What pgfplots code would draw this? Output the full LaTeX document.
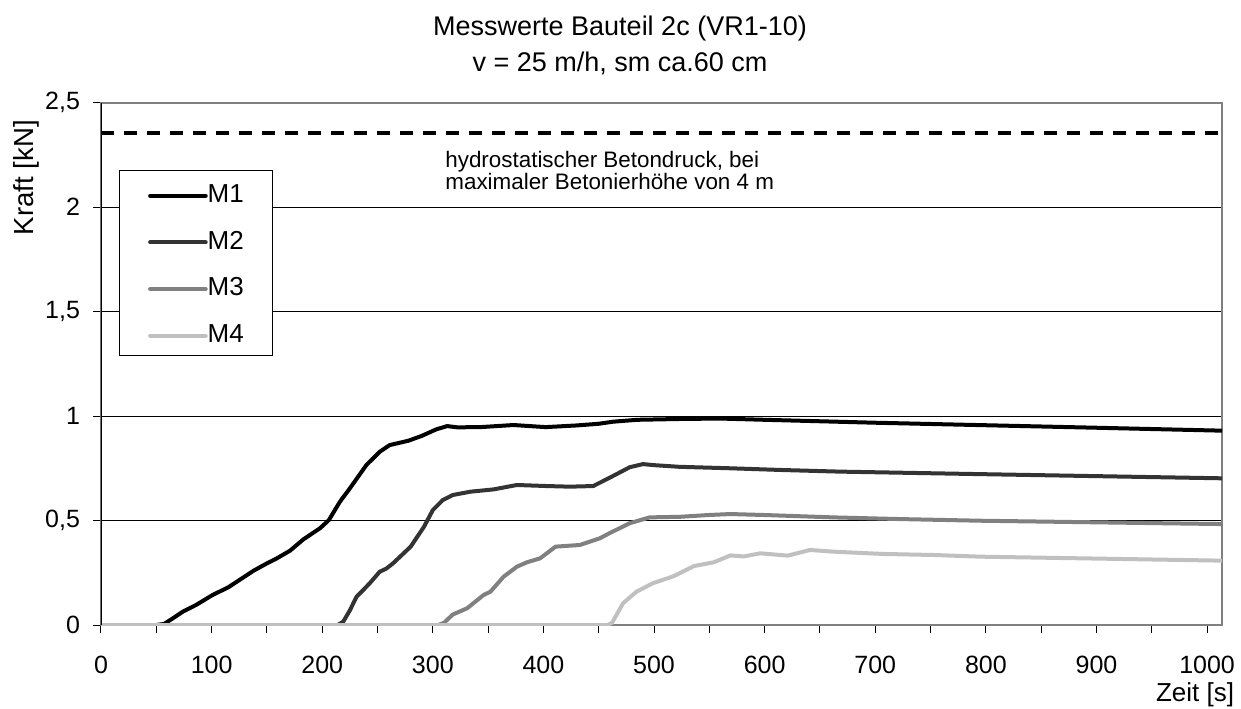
\documentclass[border=0pt]{standalone}
\usepackage{pgfplots}
\pgfplotsset{compat=1.18}
\usepackage{fontspec}
\setmainfont{Liberation Sans}
\definecolor{mtwo}{HTML}{333333}
\definecolor{mthree}{HTML}{808080}
\definecolor{mfour}{HTML}{C0C0C0}
\begin{document}
\begin{tikzpicture}
\useasboundingbox (-50.5bp,-42bp) rectangle (570bp,312.5bp);
\begin{axis}[
  scale only axis,
  width=560.5bp, height=261.2bp,
  xmin=0, xmax=1013.5, ymin=0, ymax=2.5,
  axis line style={draw=mthree, line width=0.9bp},
  xtick={0,100,...,1000},
  minor xtick={50,150,...,950},
  xticklabels={0,100,200,300,400,500,600,700,800,900,1000},
  ytick={0,0.5,1,1.5,2,2.5},
  yticklabels={0,{0,5},1,{1,5},2,{2,5}},
  tick align=outside,
  xtick pos=bottom, ytick pos=left,
  major tick length=4bp, minor tick length=4bp,
  tick style={black, line width=0.5bp},
  ymajorgrids,
  major grid style={black, line width=0.5bp},
  /pgf/number format/assume math mode=true,
  ticklabel style={font=\fontsize{12.5bp}{15bp}\selectfont},
  xticklabel style={yshift=-8bp},
  yticklabel style={xshift=-3bp},
  xlabel={Zeit [s]},
  xlabel style={at={(axis description cs:0.976,-0.134)}, anchor=center, font=\fontsize{13bp}{15bp}\selectfont},
  ylabel={Kraft [kN]},
  ylabel style={at={(axis description cs:-0.0663,0.856)}, anchor=center, font=\fontsize{13.8bp}{15bp}\selectfont},
  title={Messwerte Bauteil 2c (VR1-10)\\v = 25 m/h, sm ca.60 cm},
  title style={at={(axis description cs:0.463,1.0866)}, anchor=center, align=center, font=\fontsize{13.5bp}{18.3bp}\selectfont},
  legend style={at={(axis description cs:0.016,0.871)}, anchor=north west,
    draw=black, line width=0.6bp, fill=white,
    font=\fontsize{13bp}{15bp}\selectfont,
    inner xsep=14.3bp, inner ysep=6.4bp, row sep=13.85bp,
    nodes={inner sep=0pt, text height=9.5bp, text depth=0bp},
    /tikz/every even column/.append style={column sep=3bp}},
  legend cell align=left,
  legend image code/.code={\draw[#1] (0bp,-1.4bp) -- (27.8bp,-1.4bp);},
  every axis plot/.append style={line width=2bp, line join=round, line cap=round},
  clip=true,
]
\addplot[black] coordinates {
(0,0) (50,0) (57,0.005) (65,0.032) (74,0.064) (86,0.096) (101,0.144) (115,0.18)
(138,0.26) (150,0.295) (159,0.319) (171,0.356) (183,0.41) (198,0.463) (206,0.502)
(216,0.59) (225,0.654) (240,0.766) (252,0.829) (261,0.861) (278,0.882) (290,0.905)
(303,0.936) (313,0.952) (322,0.946) (343,0.947) (373,0.957) (402,0.947) (430,0.955)
(450,0.963) (463,0.973) (485,0.982) (524,0.986) (560,0.988) (600,0.982) (700,0.968)
(800,0.956) (900,0.944) (1013.5,0.930)
};
\addlegendentry{M1}
\addplot[mtwo] coordinates {
(0,0) (214,0) (219,0.016) (225,0.07) (231,0.135) (237,0.167) (243,0.2) (252,0.255)
(258,0.27) (264,0.295) (280,0.375) (292,0.47) (300,0.55) (309,0.598) (318,0.622)
(334,0.638) (355,0.649) (376,0.67) (403,0.665) (424,0.662) (445,0.665) (460,0.705)
(478,0.755) (490,0.77) (500,0.765) (523,0.757) (569,0.75) (614,0.742) (668,0.734)
(795,0.722) (1013.5,0.702)
};
\addlegendentry{M2}
\addplot[mthree] coordinates {
(0,0) (305,0) (310,0.01) (318,0.05) (331,0.08) (346,0.144) (352,0.159) (364,0.231)
(376,0.279) (385,0.3) (397,0.319) (411,0.375) (433,0.383) (451,0.415) (460,0.44)
(478,0.487) (496,0.515) (524,0.518) (548,0.526) (569,0.531) (602,0.526) (662,0.515)
(722,0.507) (795,0.499) (1013.5,0.483)
};
\addlegendentry{M3}
\addplot[mfour] coordinates {
(0,0) (458,0) (462,0.01) (472,0.104) (484,0.159) (499,0.2) (518,0.234) (536,0.282)
(554,0.3) (569,0.333) (581,0.328) (596,0.343) (621,0.332) (641,0.359) (662,0.351)
(707,0.34) (753,0.335) (795,0.327) (1013.5,0.308)
};
\addlegendentry{M4}
\addplot[black, line width=2bp, line cap=butt, dash pattern=on 6.5bp off 5bp, forget plot] coordinates {(0,2.355) (1013.5,2.355)};
\node[anchor=west, align=left, inner sep=0pt, font=\fontsize{11.2bp}{10bp}\selectfont] at (axis cs:311,2.175) {hydrostatischer Betondruck, bei\\maximaler Betonierhöhe von 4 m};
\draw[black, line width=0.6bp] (rel axis cs:0,0) -- (rel axis cs:0,1);
\end{axis}
\end{tikzpicture}
\end{document}
